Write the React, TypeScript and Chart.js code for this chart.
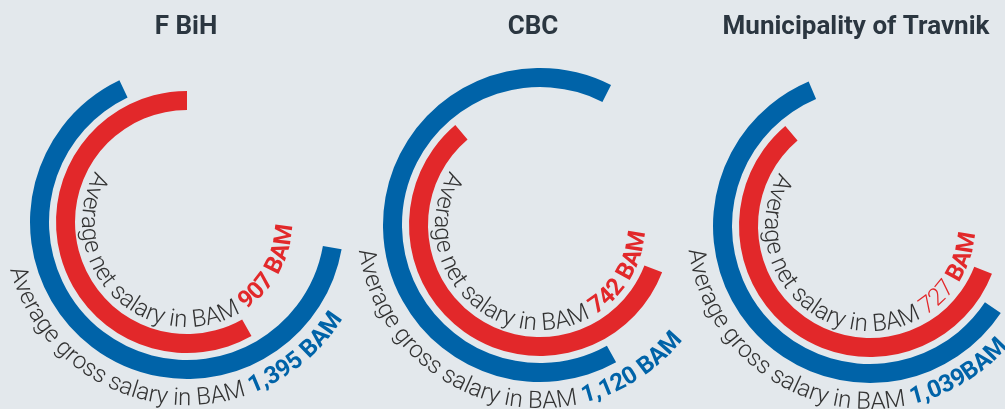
import React, { useEffect, useRef } from 'react';
import { Chart, registerables } from 'chart.js';
Chart.register(...registerables);

// ---------- data ----------
const regions = ['F BiH', 'CBC', 'Municipality of Travnik'];
const grossSalary = [1395, 1120, 1039];
const netSalary = [907, 742, 727];
const grossCaption = 'Average gross salary in BAM';
const netCaption = 'Average net salary in BAM';
const unitLabel = 'BAM';

// ---------- layout / style ----------
const W = 1005;
const H = 409;
const CANVAS_W = 1120;
const BG = '#e3e8ec';
const BLUE = '#0063a8';
const RED = '#e2282a';
const TEXT = '#333333';
const TITLE = '#2b3640';
const centerX = [187, 540, 870];
const centerY = [222, 225, 226];
const titleX = [186, 533, 856];
const OUTER_R = 157;
const INNER_R = 112;
const blueRotation = [100, 151, 123.6];
const blueCircumference = [234.5, 235.9, 213.4];
const redRotation = [150.5, 111.2, 111.4];
const redCircumference = [209.5, 208.5, 208.3];
const netTextStart = [209, 211, 210.5];
const grossTextStart = [165, 172, 172.5];
const grossUnitSep = [' ', ' ', ''];
const netNumberWeight = ['bold', 'bold', '300'];
const NET_FONT = 24;
const GROSS_FONT = 24;
const FAMILY = 'Roboto, "Noto Sans", sans-serif';

const fmt = (v: number) => v.toLocaleString('en-US');

type Seg = { text: string; font: string; color: string };

function drawArcText(ctx: CanvasRenderingContext2D, cx: number, cy: number, R: number, startDeg: number, segs: Seg[]) {
  let ang = (startDeg * Math.PI) / 180;
  ctx.save();
  ctx.textAlign = 'center';
  ctx.textBaseline = 'alphabetic';
  for (const seg of segs) {
    ctx.font = seg.font;
    ctx.fillStyle = seg.color;
    for (const ch of seg.text) {
      const w = ctx.measureText(ch).width;
      const mid = ang - w / 2 / R;
      ctx.save();
      ctx.translate(cx + R * Math.cos(mid), cy + R * Math.sin(mid));
      ctx.rotate(mid - Math.PI / 2);
      ctx.fillText(ch, 0, 0);
      ctx.restore();
      ang -= w / R;
    }
  }
  ctx.restore();
}

function makeTextPlugin(i: number) {
  return {
    id: 'arcText' + i,
    afterDatasetsDraw(chart: any) {
      const ctx: CanvasRenderingContext2D = chart.ctx;
      const blueArc = chart.getDatasetMeta(0).data[0];
      const redArc = chart.getDatasetMeta(2).data[0];
      const cx = blueArc.x;
      const cy = blueArc.y;
      // title
      ctx.save();
      ctx.font = `bold 26px ${FAMILY}`;
      ctx.fillStyle = TITLE;
      ctx.textAlign = 'center';
      ctx.textBaseline = 'alphabetic';
      ctx.fillText(regions[i], titleX[i], 34);
      ctx.restore();
      // net label inside red ring
      drawArcText(ctx, cx, cy, redArc.innerRadius - 7, netTextStart[i], [
        { text: netCaption + ' ', font: `300 ${NET_FONT}px ${FAMILY}`, color: TEXT },
        { text: fmt(netSalary[i]), font: `${netNumberWeight[i]} ${NET_FONT}px ${FAMILY}`, color: RED },
        { text: ' ' + unitLabel, font: `bold ${NET_FONT}px ${FAMILY}`, color: RED },
      ]);
      // gross label outside blue ring
      drawArcText(ctx, cx, cy, blueArc.outerRadius + 26, grossTextStart[i], [
        { text: grossCaption + ' ', font: `300 ${GROSS_FONT}px ${FAMILY}`, color: TEXT },
        { text: fmt(grossSalary[i]) + grossUnitSep[i] + unitLabel, font: `bold ${GROSS_FONT}px ${FAMILY}`, color: BLUE },
      ]);
    },
  };
}

function SalaryRing({ i }: { i: number }) {
  const ref = useRef<HTMLCanvasElement>(null);
  useEffect(() => {
    if (!ref.current) return;
    const cx = centerX[i];
    const cy = centerY[i];
    const chart = new Chart(ref.current, {
      type: 'doughnut',
      data: {
        labels: [regions[i]],
        datasets: [
          {
            label: grossCaption,
            data: [grossSalary[i]],
            backgroundColor: BLUE,
            borderWidth: 0,
            weight: 19,
            rotation: blueRotation[i],
            circumference: blueCircumference[i],
          } as any,
          {
            label: 'gap',
            data: [1],
            backgroundColor: 'rgba(0,0,0,0)',
            borderWidth: 0,
            weight: 7,
            rotation: 0,
            circumference: 360,
          } as any,
          {
            label: netCaption,
            data: [netSalary[i]],
            backgroundColor: RED,
            borderWidth: 0,
            weight: 19,
            rotation: redRotation[i],
            circumference: redCircumference[i],
          } as any,
        ],
      },
      options: {
        responsive: false,
        animation: false,
        events: [],
        cutout: INNER_R,
        layout: {
          padding: {
            left: cx - OUTER_R,
            top: cy - OUTER_R,
            right: CANVAS_W - (cx + OUTER_R),
            bottom: H - (cy + OUTER_R),
          },
        },
        plugins: {
          legend: { display: false },
          tooltip: { enabled: false },
          title: { display: false },
        },
      } as any,
      plugins: [makeTextPlugin(i)],
    });
    return () => chart.destroy();
  }, [i]);
  return (
    <canvas
      ref={ref}
      width={CANVAS_W}
      height={H}
      style={{ position: 'absolute', left: 0, top: 0, width: CANVAS_W, height: H }}
    />
  );
}

export default function App() {
  return (
    <div
      style={{
        position: 'fixed',
        left: 0,
        top: 0,
        width: W,
        height: H,
        background: BG,
        overflow: 'hidden',
      }}
    >
      {regions.map((_, i) => (
        <SalaryRing key={i} i={i} />
      ))}
    </div>
  );
}
